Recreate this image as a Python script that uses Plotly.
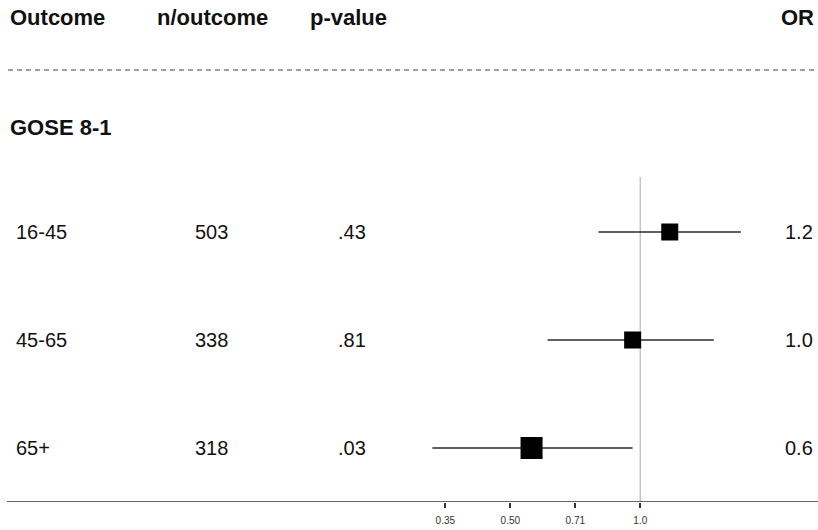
import plotly.graph_objects as go

# Subgroup results for GOSE 8-1 (ordinal outcome), by age band
groups = ["16-45", "45-65", "65+"]
n_outcome = [503, 338, 318]
p_values = [".43", ".81", ".03"]
odds_ratio = [1.17, 0.96, 0.56]
ci_lower = [0.80, 0.61, 0.33]
ci_upper = [1.71, 1.48, 0.96]

# Axis ticks on the log scale (powers of sqrt(2))
tick_vals = [2 ** -1.5, 2 ** -1.0, 2 ** -0.5, 1.0]
tick_text = ["0.35", "0.50", "0.71", "1.0"]

# Layout / style
W, H = 818, 530
PLOT_H = 502                       # plot area height in px (axis line sits here)
row_px = [232, 340, 448]           # vertical centre of each row, px from top
box_sizes = [17, 17, 22]
FONT = "Liberation Sans, Arial, sans-serif"
INK = "#111111"


def y_of(px):
    """Convert px-from-top to data y (range 0..PLOT_H)."""
    return PLOT_H - px


fig = go.Figure()

# Confidence intervals
for lo, hi, py in zip(ci_lower, ci_upper, row_px):
    fig.add_trace(go.Scatter(
        x=[lo, hi], y=[y_of(py), y_of(py)], mode="lines",
        line=dict(color="#2b2b2b", width=1.6), hoverinfo="skip", showlegend=False))

# Point estimates
fig.add_trace(go.Scatter(
    x=odds_ratio, y=[y_of(p) for p in row_px], mode="markers", opacity=1,
    marker=dict(symbol="square", size=box_sizes, color="#000000", opacity=1,
                line=dict(width=0)),
    showlegend=False, hovertemplate="OR %{x:.2f}<extra></extra>"))

shapes = [
    # reference line at OR = 1
    dict(type="line", xref="x", yref="y", x0=1, x1=1, y0=0, y1=y_of(177),
         line=dict(color="#c4c4c4", width=1.5), layer="below"),
    # dashed separator under the header
    dict(type="line", xref="paper", yref="y", x0=8 / W, x1=1, y0=y_of(70), y1=y_of(70),
         line=dict(color="#444444", width=1.2, dash="5px,4px")),
    # axis baseline
    dict(type="line", xref="paper", yref="y", x0=7 / W, x1=1, y0=0, y1=0,
         line=dict(color="#333333", width=1.6)),
]

annotations = []


def add_text(txt, px, py, anchor="left", size=20, bold=False):
    annotations.append(dict(
        text=f"<b>{txt}</b>" if bold else txt,
        xref="paper", yref="y", x=px / W, y=y_of(py),
        xanchor=anchor, yanchor="middle", showarrow=False,
        font=dict(family=FONT, size=size, color=INK)))


# Header row
add_text("Outcome", 8, 17, size=22, bold=True)
add_text("n/outcome", 155, 17, size=22, bold=True)
add_text("p-value", 308, 17, size=22, bold=True)
add_text("OR", 816, 17, anchor="right", size=22, bold=True)

# Section title
add_text("GOSE 8-1", 8, 127, size=22, bold=True)

# Table rows
for g, n, p, orv, py in zip(groups, n_outcome, p_values, odds_ratio, row_px):
    add_text(g, 14, py)
    add_text(str(n), 193, py)
    add_text(p, 336, py)
    add_text(f"{orv:.1f}", 815, py, anchor="right")

fig.update_layout(
    width=W, height=H,
    margin=dict(l=0, r=0, t=0, b=H - PLOT_H, pad=0),
    paper_bgcolor="white", plot_bgcolor="white",
    shapes=shapes, annotations=annotations,
    xaxis=dict(type="log", range=[-1.4827, 0.4115],
               tickvals=tick_vals, ticktext=tick_text,
               ticks="outside", ticklen=5, tickwidth=1.5, tickcolor="#333333",
               tickfont=dict(family=FONT, size=10, color="#333333"),
               showgrid=False, zeroline=False, showline=False,
               ticklabelstandoff=4),
    yaxis=dict(range=[0, PLOT_H], visible=False, showgrid=False, zeroline=False),
)

fig.write_html("out.html")
